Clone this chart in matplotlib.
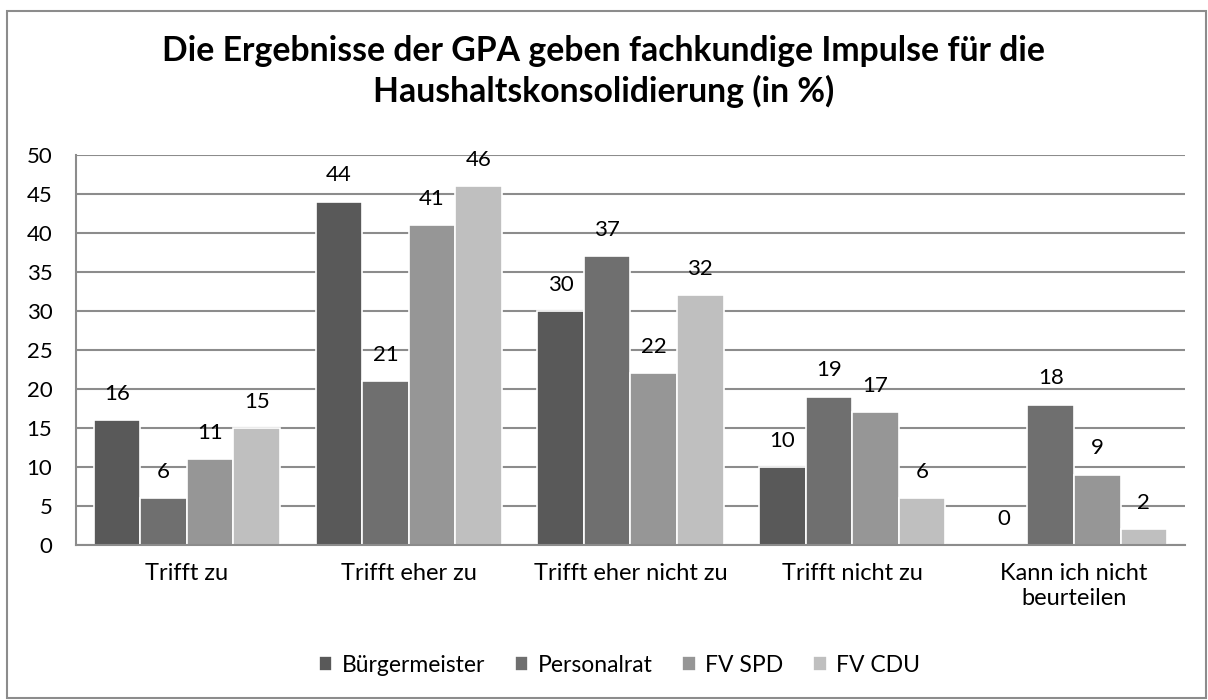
import numpy as np
import matplotlib.pyplot as plt
from matplotlib.patches import Rectangle

plt.rcParams['font.family'] = ['Lato', 'DejaVu Sans']

# Daten
categories = ["Trifft zu", "Trifft eher zu", "Trifft eher nicht zu",
              "Trifft nicht zu", "Kann ich nicht\nbeurteilen"]
series_names = ["Bürgermeister", "Personalrat", "FV SPD", "FV CDU"]
buergermeister = [16, 44, 30, 10, 0]
personalrat = [6, 21, 37, 19, 18]
fv_spd = [11, 41, 22, 17, 9]
fv_cdu = [15, 46, 32, 6, 2]

colors = ["#595959", "#6f6f6f", "#969696", "#bfbfbf"]
values = [buergermeister, personalrat, fv_spd, fv_cdu]

fig = plt.figure(figsize=(12.08, 7.0), dpi=100)
ax = fig.add_axes([0.0629, 0.2214, 0.918, 0.557])

x = np.arange(len(categories))
w = 0.21
for i, (name, vals) in enumerate(zip(series_names, values)):
    pos = x + (i - 1.5) * w
    ax.bar(pos, vals, width=w, color=colors[i], edgecolor="white",
           linewidth=1.2, label=name, zorder=3)
    for p, v in zip(pos, vals):
        ax.text(p, v + 3.4, str(v), ha="center", va="center", fontsize=16)

ax.set_xlim(-0.5, len(categories) - 0.5)
ax.set_ylim(0, 50)
ax.set_yticks(range(0, 51, 5))
ax.set_xticks(x)
ax.set_xticklabels(categories, fontsize=17, linespacing=1.25)
ax.tick_params(axis="y", labelsize=16, length=0, pad=17)
ax.tick_params(axis="x", length=0, pad=13)
ax.grid(axis="y", color="#8c8c8c", linewidth=1.5, zorder=0)
for s in ["top", "right"]:
    ax.spines[s].set_visible(False)
for s in ["left", "bottom"]:
    ax.spines[s].set_color("#8c8c8c")
    ax.spines[s].set_linewidth(1.5)
    ax.spines[s].set_zorder(4)

fig.suptitle("Die Ergebnisse der GPA geben fachkundige Impulse für die\nHaushaltskonsolidierung (in %)",
             fontsize=24.3, fontweight="bold", y=0.95, va="top", linespacing=1.3)

ax.legend(loc="center", bbox_to_anchor=(0.49, -0.308), ncol=4, frameon=False,
          fontsize=16.5, handlelength=0.6, handleheight=0.6, columnspacing=1.3,
          handletextpad=0.4)

fig.patches.append(Rectangle((7 / 1208, 2 / 700), 1199 / 1208, 687 / 700,
                             transform=fig.transFigure, fill=False,
                             edgecolor="#8c8c8c", linewidth=1.5))

plt.savefig("out.png", dpi=100)
